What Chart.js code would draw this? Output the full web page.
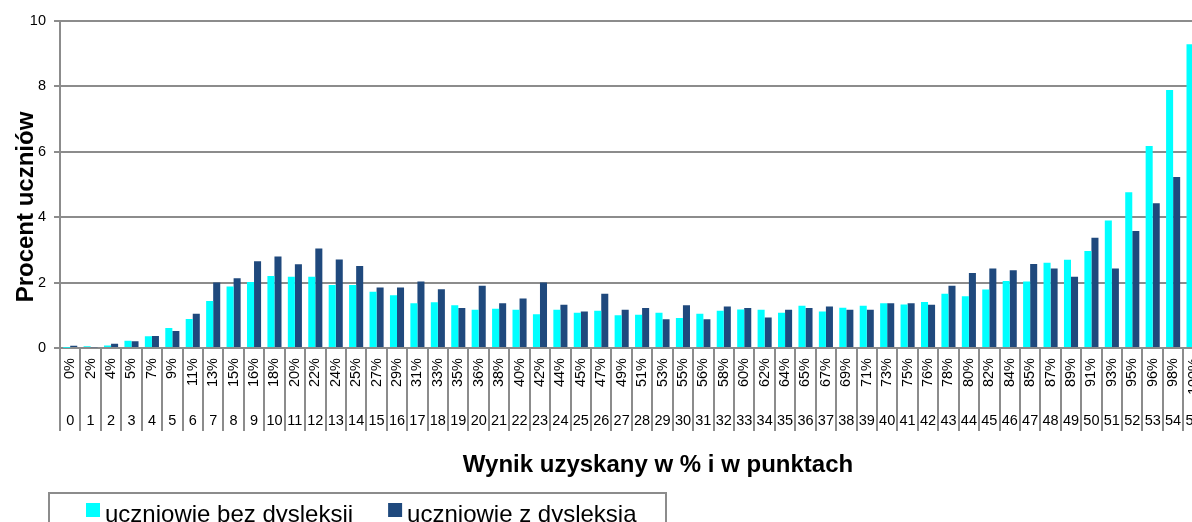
<!DOCTYPE html>
<html>
<head>
<meta charset="utf-8">
<script src="https://cdn.jsdelivr.net/npm/chart.js@4.4.1/dist/chart.umd.min.js"></script>
<style>
  html, body { margin: 0; padding: 0; background: #fff; overflow: hidden; }
  #wrap { width: 1213px; height: 522px; }
</style>
</head>
<body>
<div id="wrap"><canvas id="wynikChart"></canvas></div>
<script>
// Wynik w punktach i w procentach
const punkty = ['0', '1', '2', '3', '4', '5', '6', '7', '8', '9', '10', '11', '12', '13', '14', '15', '16', '17', '18', '19',
    '20', '21', '22', '23', '24', '25', '26', '27', '28', '29', '30', '31', '32', '33', '34', '35', '36', '37', '38', '39',
    '40', '41', '42', '43', '44', '45', '46', '47', '48', '49', '50', '51', '52', '53', '54', '55'];
const procenty = ['0%', '2%', '4%', '5%', '7%', '9%', '11%', '13%', '15%', '16%', '18%', '20%', '22%', '24%', '25%', '27%',
    '29%', '31%', '33%', '35%', '36%', '38%', '40%', '42%', '44%', '45%', '47%', '49%', '51%', '53%', '55%', '56%', '58%',
    '60%', '62%', '64%', '65%', '67%', '69%', '71%', '73%', '75%', '76%', '78%', '80%', '82%', '84%', '85%', '87%', '89%',
    '91%', '93%', '95%', '96%', '98%', '100%'];

// Procent uczniow
const bezDysleksji = [0.01, 0.05, 0.08, 0.22, 0.36, 0.61, 0.89, 1.44, 1.88, 2.02, 2.2, 2.18, 2.18, 1.93, 1.93, 1.72,
    1.61, 1.37, 1.40, 1.31, 1.17, 1.20, 1.17, 1.03, 1.17, 1.08, 1.14, 1.00, 1.02, 1.08, 0.92, 1.05, 1.14, 1.18, 1.17,
    1.08, 1.29, 1.12, 1.23, 1.29, 1.37, 1.33, 1.41, 1.66, 1.58, 1.79, 2.05, 2.03, 2.61, 2.70, 2.97, 3.90, 4.76, 6.18,
    7.89, 9.29];
const zDysleksja = [0.07, 0.02, 0.13, 0.21, 0.37, 0.52, 1.05, 2.0, 2.13, 2.65, 2.8, 2.56, 3.04, 2.71, 2.51, 1.85,
    1.85, 2.03, 1.80, 1.22, 1.90, 1.37, 1.51, 2.0, 1.32, 1.12, 1.66, 1.17, 1.22, 0.88, 1.31, 0.88, 1.27, 1.22, 0.93,
    1.17, 1.22, 1.27, 1.17, 1.17, 1.37, 1.37, 1.32, 1.90, 2.29, 2.43, 2.38, 2.57, 2.43, 2.18, 3.37, 2.43, 3.58, 4.43,
    5.23, 4.80];
const yTicks = [0, 2, 4, 6, 8, 10];

const FONT = 'Arial, "Liberation Sans", sans-serif';
const GRAY = '#8c8c8c';

// separatory osi X, tytuly osi i legenda w ramce
const dodatki = {
    id: 'dodatki',
    afterDraw(chart) {
        const ctx = chart.ctx;
        const area = chart.chartArea;
        const x = chart.scales.x;
        const x2 = chart.scales.x2;
        const krok = x.getPixelForValue(1) - x.getPixelForValue(0);

        ctx.save();
        ctx.strokeStyle = GRAY;
        ctx.lineWidth = 2;
        ctx.beginPath();
        for (let i = 0; i <= punkty.length; i++) {
            const px = Math.round(x.getPixelForValue(i) - krok / 2);
            ctx.moveTo(px, area.bottom);
            ctx.lineTo(px, x2.top + 33);
        }
        ctx.stroke();

        ctx.fillStyle = '#000';
        ctx.font = 'bold 24px ' + FONT;
        ctx.textAlign = 'center';
        ctx.textBaseline = 'alphabetic';
        ctx.fillText('Wynik uzyskany w % i w punktach', 658, 472);

        ctx.save();
        ctx.translate(33, 207);
        ctx.rotate(-Math.PI / 2);
        ctx.fillText('Procent uczniów', 0, 0);
        ctx.restore();

        // legenda
        ctx.strokeStyle = GRAY;
        ctx.lineWidth = 2;
        ctx.strokeRect(49, 493, 617, 60);
        ctx.font = '24px ' + FONT;
        ctx.textAlign = 'left';
        let lx = 86;
        chart.data.datasets.forEach(ds => {
            ctx.fillStyle = ds.backgroundColor;
            ctx.fillRect(lx, 503, 14, 14);
            ctx.fillStyle = '#000';
            ctx.fillText(ds.label, lx + 19, 522);
            lx += 19 + ctx.measureText(ds.label).width + 35;
        });
        ctx.restore();
    }
};

const ctx = document.getElementById('wynikChart').getContext('2d');
new Chart(ctx, {
    type: 'bar',
    data: {
        labels: procenty,
        datasets: [{
            label: 'uczniowie bez dysleksji',
            data: bezDysleksji,
            backgroundColor: '#00ffff'
        }, {
            label: 'uczniowie z dysleksją',
            data: zDysleksja,
            backgroundColor: '#1f497d'
        }]
    },
    options: {
        responsive: true,
        maintainAspectRatio: false,
        animation: false,
        categoryPercentage: 0.69,
        barPercentage: 1,
        layout: {
            padding: { top: 21, right: 6, bottom: 37, left: 0 }
        },
        plugins: {
            legend: { display: false },
            tooltip: { enabled: false }
        },
        scales: {
            x: {
                grid: { display: false },
                border: { display: true, color: GRAY, width: 2 },
                ticks: {
                    autoSkip: false,
                    minRotation: 90,
                    maxRotation: 90,
                    padding: 2,
                    color: '#000',
                    font: { family: FONT, size: 14.5 }
                },
                afterFit(scale) { scale.height = 50; }
            },
            x2: {
                type: 'category',
                position: 'bottom',
                labels: punkty,
                offset: true,
                grid: { display: false },
                border: { display: false },
                ticks: {
                    autoSkip: false,
                    maxRotation: 0,
                    padding: 6,
                    color: '#000',
                    font: { family: FONT, size: 14.5 }
                },
                afterFit(scale) { scale.height = 87; }
            },
            y: {
                min: 0,
                max: 10,
                afterBuildTicks(scale) { scale.ticks = yTicks.map(v => ({ value: v })); },
                grid: { color: GRAY, lineWidth: 2, tickLength: 6 },
                border: { color: GRAY, width: 2 },
                ticks: {
                    padding: 8,
                    color: '#000',
                    font: { family: FONT, size: 14.5 }
                },
                afterFit(scale) { scale.width = 60; }
            }
        }
    },
    plugins: [dodatki]
});
</script>
</body>
</html>
